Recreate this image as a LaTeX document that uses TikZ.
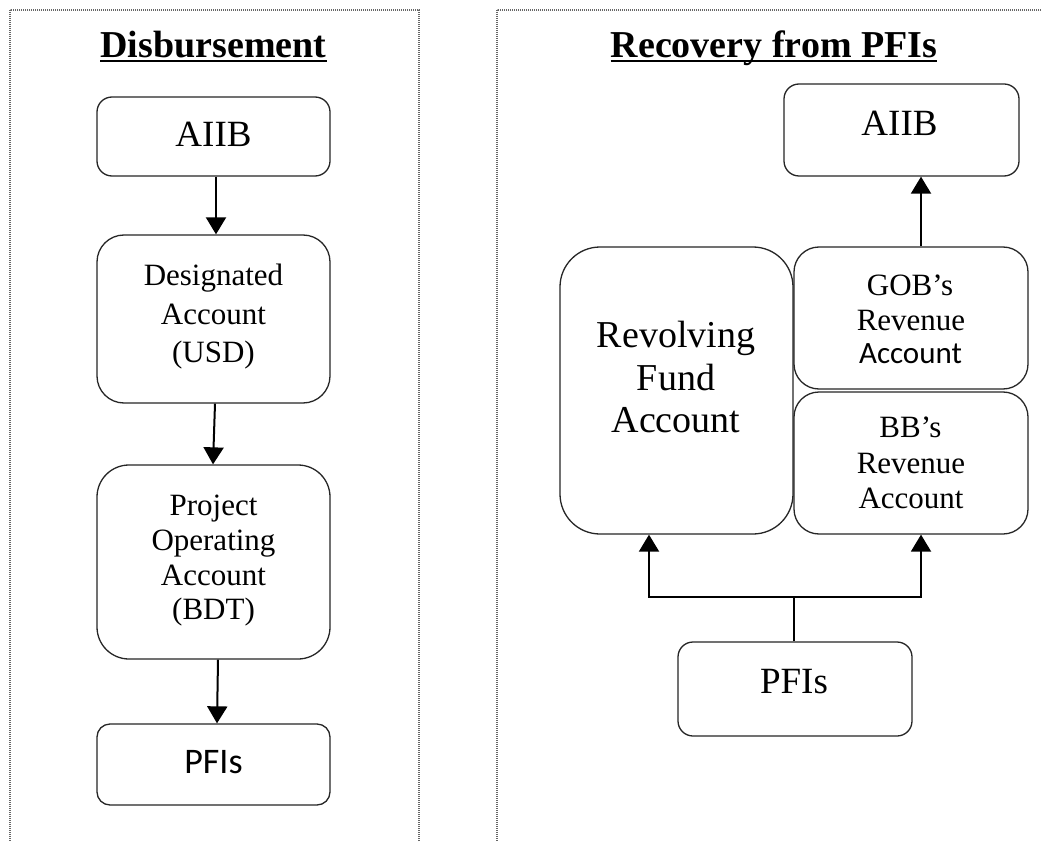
\documentclass[tikz,border=0pt]{standalone}
\usepackage{fontspec}
\setmainfont{Liberation Serif}
\newfontfamily\calib{Carlito}
\usetikzlibrary{arrows.meta}
\begin{document}
\begin{tikzpicture}[x=1pt,y=-1pt,
  box/.style={draw=black!85,line width=1.3pt,inner sep=0pt,fill=white},
  arr/.style={line width=2pt,-{Triangle[length=17pt,width=20pt]}},
  frame/.style={draw=black!60,line width=2.2pt,dash pattern=on 1.1pt off 0.9pt},
  txt/.style={inner sep=0pt,anchor=base},
  ttl/.style={txt,font=\fontsize{38}{40}\selectfont\bfseries},
  tA/.style={txt,font=\fontsize{37}{40}\selectfont},
  tB/.style={txt,font=\fontsize{31}{35}\selectfont},
  tR/.style={txt,font=\fontsize{38}{42}\selectfont},
  tC/.style={txt,font=\fontsize{36}{40}\selectfont\calib},
  tCs/.style={txt,font=\fontsize{31}{35}\selectfont\calib},
]
\useasboundingbox (0,0) rectangle (1041,842);
\fill[white] (0,0) rectangle (1041,842);

% frames
\draw[frame] (10,10) rectangle (419,870);
\draw[frame] (497,10) rectangle (1070,870);

% titles
\node[ttl] (t1) at (213.5,58) {Disbursement};
\draw[line width=2pt] ([yshift=-3.5pt]t1.base west) -- ([yshift=-3.5pt]t1.base east);
\node[ttl] (t2) at (774,58) {Recovery from PFIs};
\draw[line width=2pt] ([yshift=-3.5pt]t2.base west) -- ([yshift=-3.5pt]t2.base east);

% left column boxes
\node[box,minimum width=233pt,minimum height=79pt,rounded corners=15pt] (la) at (213.5,136.5) {};
\node[box,minimum width=233pt,minimum height=168pt,rounded corners=27pt] (ld) at (213.5,319) {};
\node[box,minimum width=233pt,minimum height=194pt,rounded corners=32pt] (lp) at (213.5,562) {};
\node[box,minimum width=233pt,minimum height=81pt,rounded corners=13pt] (lf) at (213.5,764.5) {};

\node[tA] (laT) at (213.5,147) {AIIB};
\node[tB] (ld1) at (213.5,286) {Designated};
\node[tB] (ld2) at (213.5,324) {Account};
\node[tB] (ld3) at (213.5,362) {(USD)};
\node[tB] (lp1) at (213.5,515) {Project};
\node[tB] (lp2) at (213.5,550) {Operating};
\node[tB] (lp3) at (213.5,585) {Account};
\node[tB] (lp4) at (213.5,619) {(BDT)};
\node[tC] (lfT) at (213.5,773) {PFIs};

\draw[arr] ([xshift=2.5pt]la.south) -- ([xshift=2.5pt]ld.north);
\draw[arr] ([xshift=1.5pt]ld.south) -- ([xshift=-0.5pt]lp.north);
\draw[arr] ([xshift=4.5pt]lp.south) -- ([xshift=3.5pt]lf.north);

% right side boxes
\node[box,minimum width=235pt,minimum height=92pt,rounded corners=15pt] (ra) at (901.5,130) {};
\node[box,minimum width=233pt,minimum height=287pt,rounded corners=40pt] (rv) at (676.5,390.5) {};
\node[box,minimum width=234pt,minimum height=142pt,rounded corners=25pt] (rg) at (911,318) {};
\node[box,minimum width=234pt,minimum height=142pt,rounded corners=25pt] (rb) at (911,463) {};
\node[box,minimum width=234pt,minimum height=94pt,rounded corners=15pt] (rp) at (795,689) {};

\node[tA] (raT) at (899.5,136) {AIIB};
\node[tR] (rv1) at (676,347) {Revolving};
\node[tR] (rv2) at (676,390) {Fund};
\node[tR] (rv3) at (676,432) {Account};
\node[tB] (rg1) at (910,295) {GOB’s};
\node[tB] (rg2) at (911,330) {Revenue};
\node[tCs] (rg3) at (910.5,363) {Account};
\node[tB] (rb1) at (910.5,437) {BB’s};
\node[tB] (rb2) at (911,473) {Revenue};
\node[tB] (rb3) at (911,508) {Account};
\node[tA] (rpT) at (794,693) {PFIs};

\draw[arr] ([xshift=10pt]rg.north) -- ([xshift=19.5pt]ra.south);

\coordinate (jn) at (794,597);
\draw[line width=1.3pt] ([xshift=-1pt]rp.north) -- (jn);
\draw[arr] (jn) -| ([xshift=-27.5pt]rv.south);
\draw[arr] (jn) -| ([xshift=10pt]rb.south);
\end{tikzpicture}
\end{document}
